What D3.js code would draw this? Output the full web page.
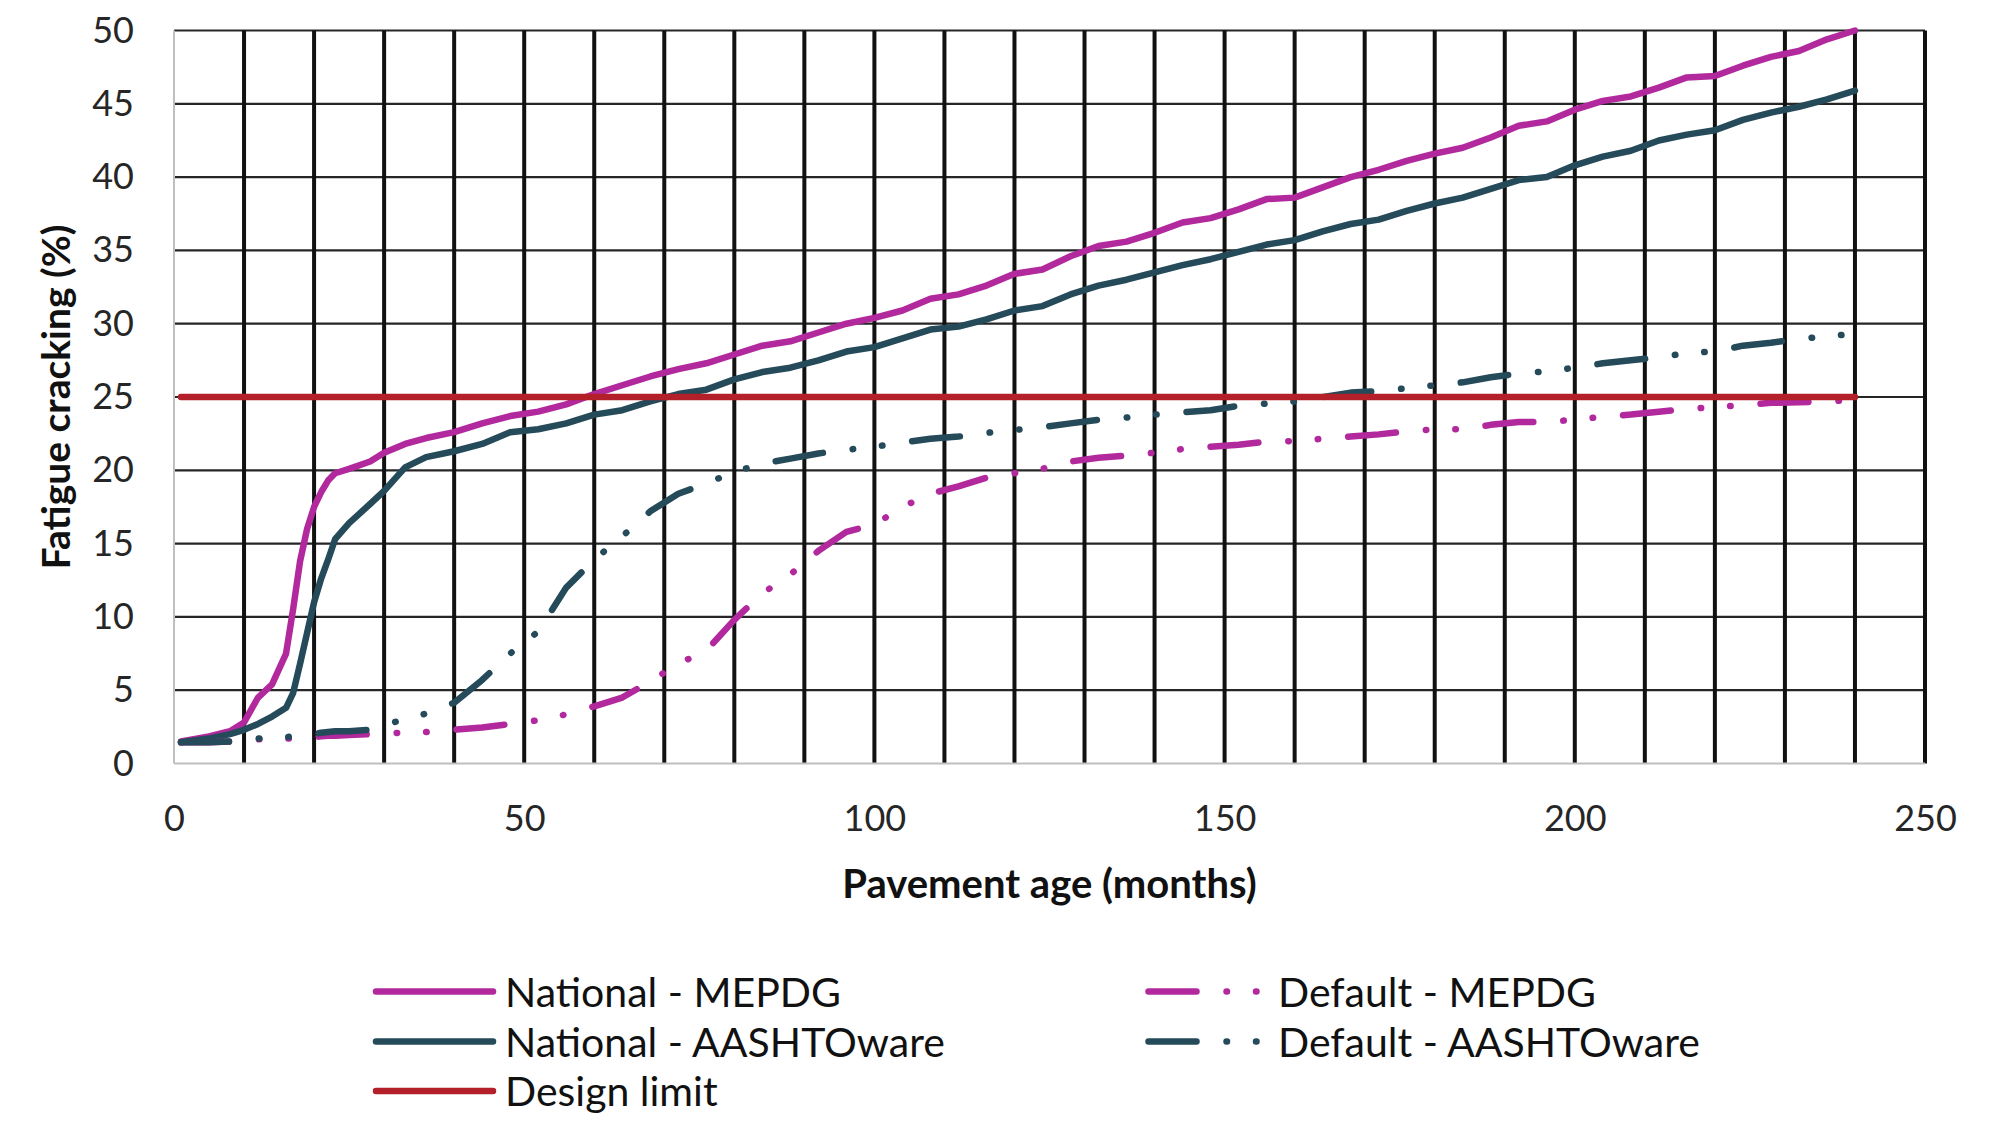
<!DOCTYPE html>
<html>
<head>
<meta charset="utf-8">
<script src="https://cdn.jsdelivr.net/npm/d3@7"></script>
<style>
  body { margin: 0; background: #fff; }
  svg { display: block; font-family: Lato, "Open Sans", sans-serif; }
</style>
</head>
<body>
<svg id="chart" width="2016" height="1138"></svg>
<script>
var months = [1, 5, 8, 10, 12, 14, 16, 17, 18, 19, 20, 21, 22, 23, 25, 28, 30, 33, 36, 40,
  44, 48, 52, 56, 60, 64, 68, 72, 76, 80, 84, 88, 92, 96, 100, 104, 108, 112, 116, 120,
  124, 128, 132, 136, 140, 144, 148, 152, 156, 160, 164, 168, 172, 176, 180, 184, 188, 192, 196, 200,
  204, 208, 212, 216, 220, 224, 228, 232, 236, 240];

var nationalMEPDG = [1.5, 1.85, 2.2, 2.8, 4.5, 5.4, 7.5, 10.5, 13.8, 16.0, 17.5, 18.5, 19.3, 19.8, 20.1, 20.6, 21.2, 21.8, 22.2, 22.6,
  23.2, 23.7, 24.0, 24.5, 25.2, 25.8, 26.4, 26.9, 27.3, 27.9, 28.5, 28.8, 29.4, 30.0, 30.4, 30.9, 31.7, 32.0, 32.6, 33.4,
  33.7, 34.6, 35.3, 35.6, 36.2, 36.9, 37.2, 37.8, 38.5, 38.6, 39.3, 40.0, 40.5, 41.1, 41.6, 42.0, 42.7, 43.5, 43.8, 44.6,
  45.2, 45.5, 46.1, 46.8, 46.9, 47.6, 48.2, 48.6, 49.4, 50.0];

var nationalAASHTO = [1.45, 1.7, 2.0, 2.3, 2.7, 3.2, 3.8, 4.8, 6.8, 8.9, 11.0, 12.6, 13.9, 15.3, 16.4, 17.7, 18.6, 20.2, 20.9, 21.3,
  21.8, 22.6, 22.8, 23.2, 23.8, 24.1, 24.7, 25.2, 25.5, 26.2, 26.7, 27.0, 27.5, 28.1, 28.4, 29.0, 29.6, 29.8, 30.3, 30.9,
  31.2, 32.0, 32.6, 33.0, 33.5, 34.0, 34.4, 34.9, 35.4, 35.7, 36.3, 36.8, 37.1, 37.7, 38.2, 38.6, 39.2, 39.8, 40.0, 40.8,
  41.4, 41.8, 42.5, 42.9, 43.2, 43.9, 44.4, 44.8, 45.3, 45.9];

var defaultMEPDG = [1.45, 1.45, 1.5, 1.55, 1.65, 1.7, 1.7, 1.7, 1.75, 1.75, 1.8, 1.85, 1.9, 1.9, 1.95, 2.0, 2.05, 2.1, 2.15, 2.3,
  2.45, 2.7, 2.95, 3.35, 3.9, 4.5, 5.6, 6.8, 7.7, 9.8, 11.6, 12.9, 14.5, 15.8, 16.3, 17.5, 18.4, 18.9, 19.5, 19.8,
  20.1, 20.6, 20.85, 21.0, 21.2, 21.45, 21.6, 21.75, 21.95, 22.0, 22.15, 22.3, 22.45, 22.65, 22.8, 22.8, 23.1, 23.3, 23.3, 23.45,
  23.65, 23.8, 24.0, 24.2, 24.3, 24.45, 24.6, 24.65, 24.7, 24.8];

var defaultAASHTO = [1.45, 1.45, 1.5, 1.6, 1.7, 1.75, 1.8, 1.85, 1.9, 1.95, 2.0, 2.1, 2.15, 2.2, 2.2, 2.3, 2.6, 3.05, 3.4, 4.15,
  5.7, 7.5, 9.0, 12.0, 13.9, 15.5, 17.2, 18.4, 19.1, 19.9, 20.45, 20.8, 21.15, 21.4, 21.6, 21.9, 22.15, 22.3, 22.55, 22.75,
  22.95, 23.2, 23.45, 23.6, 23.8, 23.95, 24.1, 24.4, 24.55, 24.7, 25.0, 25.3, 25.4, 25.6, 25.8, 26.0, 26.35, 26.6, 26.75, 27.0,
  27.3, 27.5, 27.7, 28.0, 28.1, 28.5, 28.7, 28.95, 29.15, 29.3];

var limitMonths = [1, 240];
var designLimit = [25, 25];

var xTicks = [0, 50, 100, 150, 200, 250];
var yTicks = [0, 5, 10, 15, 20, 25, 30, 35, 40, 45, 50];

var magenta = "#b1299d", slate = "#254a5a", red = "#b3202a";
var dashDot = "48 30 0.5 29 0.5 30";

var series = [
  {name: "National - MEPDG", x: months, y: nationalMEPDG, color: magenta, dash: null},
  {name: "National - AASHTOware", x: months, y: nationalAASHTO, color: slate, dash: null},
  {name: "Default - MEPDG", x: months, y: defaultMEPDG, color: magenta, dash: dashDot},
  {name: "Default - AASHTOware", x: months, y: defaultAASHTO, color: slate, dash: dashDot},
  {name: "Design limit", x: limitMonths, y: designLimit, color: red, dash: null}
];

var svg = d3.select("#chart");
var plotL = 174, plotR = 1925, plotT = 30.5, plotB = 763.5;

var x = d3.scaleLinear().domain([0, 250]).range([plotL, plotR]);
var y = d3.scaleLinear().domain([0, 50]).range([plotB, plotT]);

// horizontal grid
svg.append("g")
  .selectAll("line").data(d3.range(5, 51, 5)).join("line")
    .attr("x1", plotL).attr("x2", plotR)
    .attr("y1", d => y(d)).attr("y2", d => y(d))
    .attr("stroke", "#262626").attr("stroke-width", 2.2);

// vertical grid (every 10 months)
svg.append("g")
  .selectAll("line").data(d3.range(10, 251, 10)).join("line")
    .attr("x1", d => x(d)).attr("x2", d => x(d))
    .attr("y1", plotT).attr("y2", plotB)
    .attr("stroke", "#111").attr("stroke-width", 4);

// axis lines
svg.append("line").attr("x1", plotL).attr("x2", plotL).attr("y1", plotT).attr("y2", plotB)
  .attr("stroke", "#bfbfbf").attr("stroke-width", 2);
svg.append("line").attr("x1", plotL).attr("x2", plotR).attr("y1", plotB).attr("y2", plotB)
  .attr("stroke", "#bfbfbf").attr("stroke-width", 2);

// tick labels through d3 axes
var yAxis = svg.append("g").attr("transform", "translate(" + plotL + ",0)")
  .call(d3.axisLeft(y).tickValues(yTicks).tickSize(0).tickPadding(40));
var xAxis = svg.append("g").attr("transform", "translate(0," + plotB + ")")
  .call(d3.axisBottom(x).tickValues(xTicks).tickSize(0).tickPadding(42));
[yAxis, xAxis].forEach(function (a) {
  a.select(".domain").remove();
  a.selectAll("text").attr("font-family", "Lato, sans-serif").attr("font-size", 36).attr("fill", "#262626");
});

// series lines
var line = d3.line().x(d => x(d[0])).y(d => y(d[1]));
svg.append("g").selectAll("path").data(series).join("path")
  .attr("d", s => line(d3.zip(s.x, s.y)))
  .attr("fill", "none")
  .attr("stroke", s => s.color)
  .attr("stroke-width", 6.5)
  .attr("stroke-linecap", "round")
  .attr("stroke-linejoin", "round")
  .attr("stroke-dasharray", s => s.dash);

// axis titles
svg.append("text")
  .attr("x", (plotL + plotR) / 2).attr("y", 898)
  .attr("text-anchor", "middle")
  .attr("font-size", 40).attr("font-weight", "bold").attr("fill", "#111")
  .text("Pavement age (months)");
svg.append("text")
  .attr("transform", "translate(70," + (plotT + plotB) / 2 + ") rotate(-90)")
  .attr("text-anchor", "middle")
  .attr("font-size", 39).attr("font-weight", "bold").attr("fill", "#111")
  .text("Fatigue cracking (%)");

// legend
var legendPos = [
  {s: series[0], lx: 376, ty: 991.5},
  {s: series[1], lx: 376, ty: 1041.5},
  {s: series[4], lx: 376, ty: 1091},
  {s: series[2], lx: 1148.5, ty: 991.5},
  {s: series[3], lx: 1148.5, ty: 1041.5}
];
var leg = svg.append("g").selectAll("g").data(legendPos).join("g");
leg.append("line")
  .attr("x1", d => d.lx).attr("x2", d => d.lx + (d.s.dash ? 113 : 117))
  .attr("y1", d => d.ty).attr("y2", d => d.ty)
  .attr("stroke", d => d.s.color).attr("stroke-width", 6.5)
  .attr("stroke-linecap", "round")
  .attr("stroke-dasharray", d => d.s.dash);
leg.append("text")
  .attr("x", d => d.s.dash ? 1278 : 505)
  .attr("y", d => d.ty + 15)
  .attr("font-size", 41).attr("fill", "#111")
  .text(d => d.s.name);
</script>
</body>
</html>
